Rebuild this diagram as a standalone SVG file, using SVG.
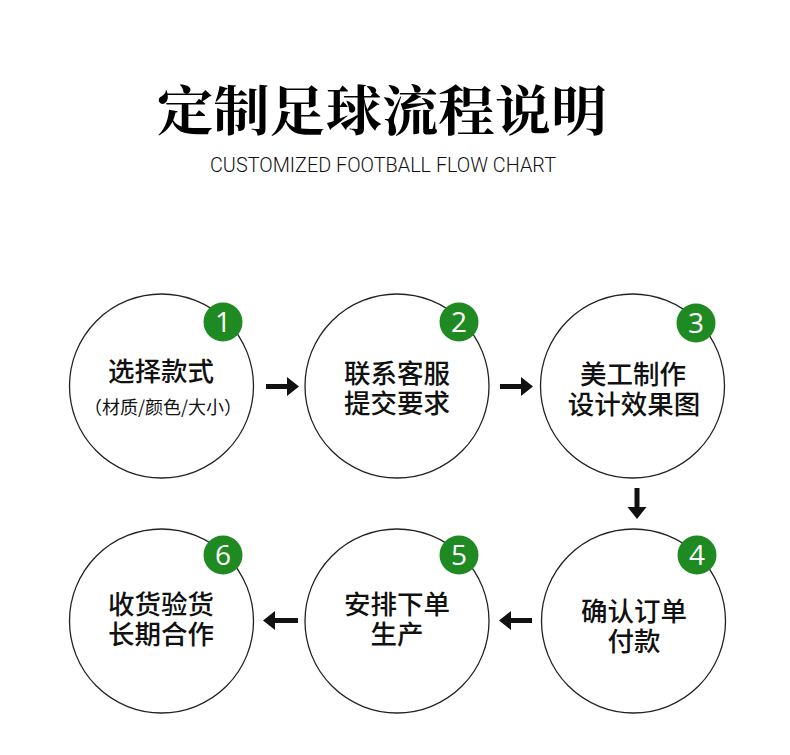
<svg xmlns="http://www.w3.org/2000/svg" width="790" height="755" viewBox="0 0 790 755">
<style>
.c{fill:#fff;stroke:#222;stroke-width:1.3}
.b{fill:#1f8a22}
.n{fill:#fff;font-family:"Open Sans","Noto Sans",sans-serif;font-size:28px;text-anchor:middle}
.t{fill:#111;font-family:"Noto Sans CJK SC",sans-serif;font-size:26.5px;font-weight:500;text-anchor:middle}
.s{fill:#111;font-family:"Noto Sans CJK SC",sans-serif;font-size:18px;text-anchor:middle}
.a{fill:#111}
</style>
<rect width="790" height="755" fill="#fff"/>
<text x="382" y="131" fill="#000" font-family="'Noto Serif CJK SC','Noto Sans CJK SC',serif" font-weight="bold" font-size="54" text-anchor="middle" textLength="450" lengthAdjust="spacingAndGlyphs">定制足球流程说明</text>
<text x="383" y="172" fill="#111" font-family="Roboto,'Liberation Sans',sans-serif" font-weight="300" font-size="21" text-anchor="middle" textLength="346" lengthAdjust="spacingAndGlyphs">CUSTOMIZED FOOTBALL FLOW CHART</text>
<g id="node1">
<circle class="c" cx="161.5" cy="386" r="92"/>
<circle class="b" cx="223" cy="322" r="19.5"/>
<text class="n" x="223" y="332">1</text>
<text class="t" x="161" y="381">选择款式</text>
<text class="s" x="163" y="414" textLength="158" lengthAdjust="spacing">（材质/颜色/大小）</text>
</g>
<g id="node2">
<circle class="c" cx="397" cy="386" r="92"/>
<circle class="b" cx="459" cy="322" r="19.5"/>
<text class="n" x="459" y="332">2</text>
<text class="t" x="397" y="383">联系客服</text>
<text class="t" x="397" y="413">提交要求</text>
</g>
<g id="node3">
<circle class="c" cx="632.5" cy="386" r="92"/>
<circle class="b" cx="696" cy="323" r="19.5"/>
<text class="n" x="696" y="333">3</text>
<text class="t" x="633" y="384">美工制作</text>
<text class="t" x="634" y="414">设计效果图</text>
</g>
<g id="node4">
<circle class="c" cx="633.5" cy="621" r="92"/>
<circle class="b" cx="697" cy="555" r="19.5"/>
<text class="n" x="697" y="565">4</text>
<text class="t" x="634" y="621">确认订单</text>
<text class="t" x="634" y="651">付款</text>
</g>
<g id="node5">
<circle class="c" cx="397" cy="621" r="92"/>
<circle class="b" cx="459" cy="555" r="19.5"/>
<text class="n" x="459" y="565">5</text>
<text class="t" x="397" y="614">安排下单</text>
<text class="t" x="397" y="644">生产</text>
</g>
<g id="node6">
<circle class="c" cx="161.5" cy="621" r="92"/>
<circle class="b" cx="223" cy="555" r="19.5"/>
<text class="n" x="223" y="565">6</text>
<text class="t" x="161" y="614">收货验货</text>
<text class="t" x="161" y="644">长期合作</text>
</g>
<g id="connectors">
<polygon class="a" points="266,384 287,384 287,377 299,386.5 287,396 287,389 266,389"/>
<polygon class="a" points="500,384 521,384 521,377 533,386.5 521,396 521,389 500,389"/>
<polygon class="a" points="634.5,488 639.5,488 639.5,507 646.5,507 637,519 627.5,507 634.5,507"/>
<polygon class="a" points="298,618 275,618 275,611 263,620.5 275,630 275,623 298,623"/>
<polygon class="a" points="532,618 511,618 511,611 499,620.5 511,630 511,623 532,623"/>
</g>
</svg>
